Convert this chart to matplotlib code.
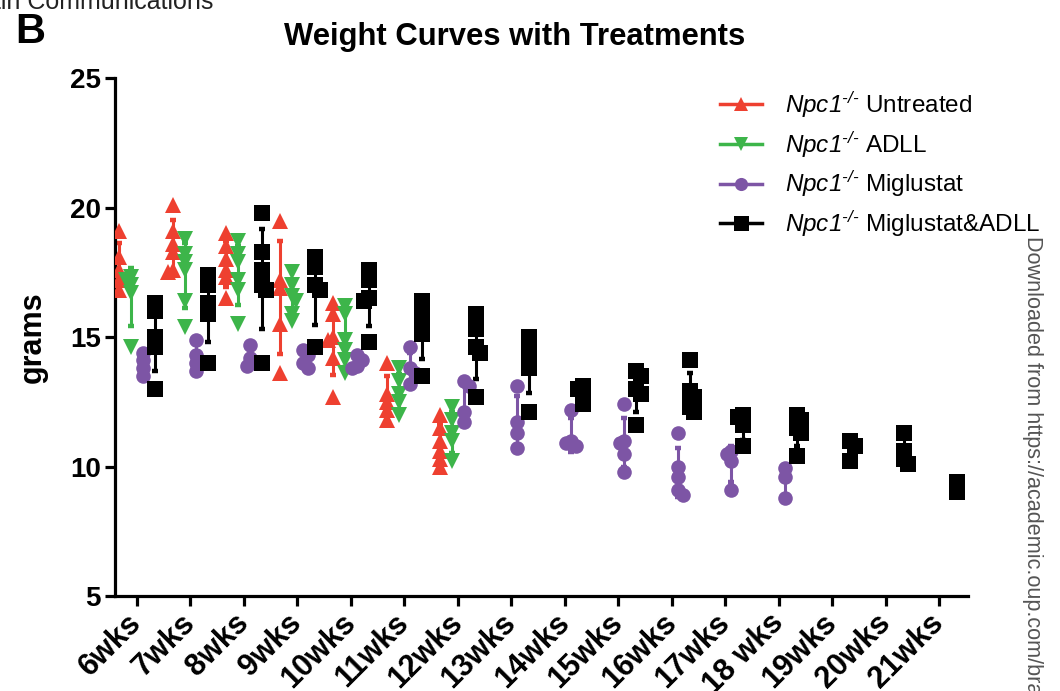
import numpy as np
import matplotlib
matplotlib.use("Agg")
import matplotlib.pyplot as plt
from matplotlib.lines import Line2D

plt.rcParams['font.family'] = ['Liberation Sans', 'DejaVu Sans']
plt.rcParams['mathtext.fontset'] = 'custom'
plt.rcParams['mathtext.rm'] = 'Liberation Sans:italic'
plt.rcParams['mathtext.it'] = 'Liberation Sans:italic'
plt.rcParams['mathtext.bf'] = 'Liberation Sans:bold'

weeks = ["6wks", "7wks", "8wks", "9wks", "10wks", "11wks", "12wks", "13wks",
         "14wks", "15wks", "16wks", "17wks", "18 wks", "19wks", "20wks", "21wks"]

untreated = [
    [19.1, 18.1, 17.6, 17.2, 16.8],
    [20.1, 19.1, 18.6, 18.3, 17.6, 17.5],
    [19.0, 18.5, 18.0, 17.6, 17.3, 16.5],
    [19.5, 17.2, 16.9, 15.5, 13.6],
    [16.3, 15.9, 15.0, 14.9, 14.2, 12.7],
    [14.0, 12.8, 12.5, 12.2, 11.8],
    [12.0, 11.5, 11.0, 10.6, 10.3, 10.0],
]
adll = [
    [17.3, 17.2, 17.0, 16.7, 14.6],
    [18.8, 18.2, 17.9, 17.6, 16.4, 15.4],
    [18.7, 18.2, 17.9, 17.2, 16.8, 15.5],
    [17.5, 17.0, 16.6, 16.4, 15.9, 15.6],
    [16.2, 15.9, 14.9, 14.5, 14.1, 13.6],
    [13.8, 13.3, 12.8, 12.5, 12.0],
    [12.3, 11.8, 11.3, 11.0, 10.2],
]
miglustat = [
    [14.4, 14.1, 13.8, 13.5],
    [14.9, 14.3, 14.0, 13.7],
    [14.7, 14.2, 14.0, 13.9],
    [14.5, 14.3, 14.0, 13.8],
    [14.3, 14.1, 13.9, 13.8],
    [14.6, 13.8, 13.6, 13.2],
    [13.3, 13.1, 12.1, 11.7],
    [13.1, 11.7, 11.3, 10.7],
    [12.2, 11.0, 10.9, 10.8],
    [12.4, 11.0, 10.9, 10.5, 9.8],
    [11.3, 10.0, 9.6, 9.1, 8.9],
    [10.6, 10.5, 10.2, 9.1],
    [9.95, 9.6, 8.8],
]
combo = [
    [16.3, 16.0, 15.0, 14.6, 13.0],
    [17.4, 17.0, 16.3, 15.9, 14.0],
    [19.8, 18.3, 17.6, 17.0, 16.8, 14.0],
    [18.1, 17.7, 17.0, 16.8, 14.6],
    [17.6, 17.2, 16.5, 16.4, 14.8],
    [16.4, 16.0, 15.4, 15.1, 13.5],
    [15.9, 15.3, 14.6, 14.4, 12.7],
    [15.0, 14.7, 14.3, 13.8, 12.1],
    [13.1, 13.0, 12.8, 12.4],
    [13.7, 13.5, 13.0, 12.8, 11.6],
    [14.1, 12.9, 12.7, 12.3, 12.1],
    [12.0, 11.9, 11.6, 10.8],
    [12.0, 11.8, 11.5, 11.3, 10.4],
    [11.0, 10.8, 10.2],
    [11.3, 10.6, 10.3, 10.1],
    [9.4, 9.0],
]

groups = [
    (r"$\mathrm{Npc1}^{\text{-/-}}$ Untreated", untreated, '#EE4030', '^', 11.0, -0.33),
    (r"$\mathrm{Npc1}^{\text{-/-}}$ ADLL", adll, '#3DB54A', 'v', 11.0, -0.11),
    (r"$\mathrm{Npc1}^{\text{-/-}}$ Miglustat", miglustat, '#7D55A5', 'o', 10.5, 0.11),
    (r"$\mathrm{Npc1}^{\text{-/-}}$ Miglustat&ADLL", combo, '#000000', 's', 12.0, 0.33),
]

XU, YU = 53.5, 25.9  # pixels per data unit (for de-overlapping points)


def swarm(vals, center, diam=6.5, step=0.045):
    placed, xs = [], []
    for v in vals:
        x = center
        for k in [0, 1, -1, 2, -2]:
            x = center + k * step
            if all(((x - px) * XU) ** 2 + ((v - py) * YU) ** 2 >= diam ** 2 for px, py in placed):
                break
        placed.append((x, v))
        xs.append(x)
    return xs


fig = plt.figure(figsize=(10.6, 6.91), dpi=100)
ax = fig.add_axes([0.1085, 0.1375, 0.8045, 0.7495])

for label, data, color, marker, ms, off in groups:
    for i, vals in enumerate(data):
        vals = np.array(vals, dtype=float)
        c = i + off
        m = vals.mean()
        sd = vals.std(ddof=1) if len(vals) > 1 else 0.0
        ax.errorbar([c], [m], yerr=[sd], color=color, lw=2.2, capsize=2.5,
                    capthick=3.2, fmt='none', zorder=2)
        xs = swarm(vals, c)
        ax.plot(xs, vals, linestyle='none', marker=marker, ms=ms, color=color,
                markeredgewidth=0, zorder=3)

ax.set_xlim(-0.41, 15.53)
ax.set_ylim(5, 25)
ax.set_yticks([5, 10, 15, 20, 25])
ax.set_xticks(range(len(weeks)))
ax.set_xticklabels(weeks, rotation=45, ha='right', va='center', rotation_mode='anchor',
                   fontsize=22, fontweight='bold')
for t in ax.get_yticklabels():
    t.set_fontsize(20)
    t.set_fontweight('bold')
for s in ['top', 'right']:
    ax.spines[s].set_visible(False)
for s in ['left', 'bottom']:
    ax.spines[s].set_linewidth(2.3)
ax.tick_params(axis='both', width=2.3, length=7)
ax.tick_params(axis='x', pad=9)
ax.tick_params(axis='y', pad=3)
ax.set_ylabel('grams', fontsize=22, fontweight='bold', labelpad=16)
fig.text(515 / 1060, 1 - 37 / 691, 'Weight Curves with Treatments', fontsize=22.3,
         fontweight='bold', ha='center', va='center')

handles = [Line2D([0], [0], color=c, lw=2.5, marker=mk, ms=ms * 0.9, markeredgewidth=0)
           for _, _, c, mk, ms, _ in groups]
labels = [g[0] for g in groups]
fig.legend(handles, labels, loc='upper left', bbox_to_anchor=(0.679, 0.871),
           frameon=False, fontsize=17.5, handlelength=1.75, handletextpad=0.95,
           labelspacing=0.37, borderpad=0, borderaxespad=0)

fig.text(15 / 1060, 1 - 43 / 691, 'B', fontsize=30, fontweight='bold', ha='left', va='baseline')
fig.text(213 / 1060, 1 - 9 / 691, 'Brain Communications', fontsize=18, ha='right',
         va='baseline', color='#222222')
fig.text(1033 / 1060, 1 - 236 / 691, 'Downloaded from https://academic.oup.com/brain-communications',
         fontsize=15.6, rotation=270, ha='center', va='top', color='#555555')

fig.savefig('out.png', dpi=100)
